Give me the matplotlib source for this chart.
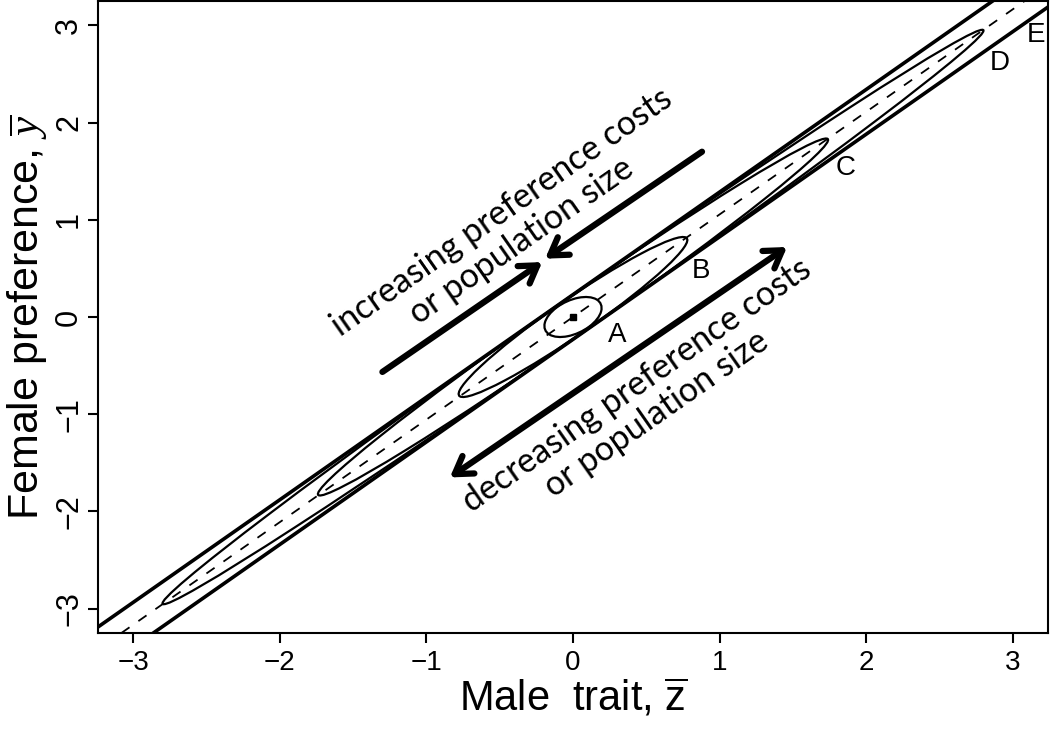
# mating preference / trait equilibrium sketch

import numpy as np
import matplotlib
matplotlib.use("Agg")
import matplotlib.pyplot as plt
from matplotlib.patches import Ellipse, FancyArrowPatch

plt.rcParams['font.family'] = ['Liberation Sans', 'DejaVu Sans']
plt.rcParams['mathtext.fontset'] = 'custom'
plt.rcParams['mathtext.rm'] = 'Liberation Sans'
plt.rcParams['mathtext.it'] = 'Liberation Serif:italic'

# line of equilibria and the band around it
line_slope = 1.055
band_offset = 0.23

# ellipses A-D: half extent along x and correlation
ellipse_names = ['A', 'B', 'C', 'D']
ellipse_half_x = [0.195, 0.78, 1.74, 2.80]
ellipse_corr = [0.45, 0.962, 0.992, 0.997]

# letter labels
label_text = ['A', 'B', 'C', 'D', 'E']
label_x = [0.30, 0.87, 1.86, 2.91, 3.16]
label_y = [-0.185, 0.47, 1.53, 2.61, 2.90]

# arrows (start -> end)
arrow_up_start = (-1.30, -0.565)
arrow_up_end = (-0.21, 0.565)
arrow_down_start = (0.88, 1.70)
arrow_down_end = (-0.19, 0.60)
arrow_both_a = (-0.84, -1.65)
arrow_both_b = (1.46, 0.72)

ticks = [-3, -2, -1, 0, 1, 2, 3]
tick_labels = ['\u22123', '\u22122', '\u22121', '0', '1', '2', '3']
lim = 3.24


def cov_ellipse(hx, rho, slope, **kw):
    hy = slope * hx
    cov = np.array([[hx ** 2, rho * hx * hy], [rho * hx * hy, hy ** 2]])
    vals, vecs = np.linalg.eigh(cov)
    big = vecs[:, 1]
    ang = np.degrees(np.arctan2(big[1], big[0]))
    return Ellipse((0, 0), 2 * np.sqrt(vals[1]), 2 * np.sqrt(vals[0]),
                   angle=ang, fill=False, **kw)


fig = plt.figure(figsize=(10.5, 7.29), dpi=100)
ax = fig.add_axes([98 / 1050, 1 - 633 / 729, 950 / 1050, 632 / 729])
ax.set_xlim(-lim, lim)
ax.set_ylim(-3.25, 3.25)

ax.axline((0, band_offset), slope=line_slope, color='black', lw=2.6)
ax.axline((0, -band_offset), slope=line_slope, color='black', lw=2.6)
ax.axline((0, 0), slope=line_slope, color='black', lw=1.3, dashes=(5.5, 6))

for hx, rho in zip(ellipse_half_x, ellipse_corr):
    ax.add_patch(cov_ellipse(hx, rho, line_slope, color='black', lw=1.6))
ax.plot([0], [0], marker='s', color='black', ms=5)

for t, x, y in zip(label_text, label_x, label_y):
    ax.text(x, y, t, fontsize=20, ha='center', va='center')

arrow_style = '->,head_length=0.6,head_width=0.38'
for a, b, st in [(arrow_up_start, arrow_up_end, arrow_style),
                 (arrow_down_start, arrow_down_end, arrow_style),
                 (arrow_both_a, arrow_both_b, '<->,head_length=0.6,head_width=0.38')]:
    ax.add_patch(FancyArrowPatch(a, b, arrowstyle=st, mutation_scale=20,
                                 lw=4.5, color='black', shrinkA=0, shrinkB=0))

txt_angle = np.degrees(np.arctan(line_slope))
ax.text(-0.42, 0.93, 'increasing preference costs\nor population size',
        rotation=txt_angle, transform_rotates_text=True, rotation_mode='anchor',
        ha='center', va='center', multialignment='center',
        fontsize=24.5, family=['Lato', 'DejaVu Sans'], linespacing=1.1)
ax.text(0.50, -0.85, 'decreasing preference costs\nor population size',
        rotation=txt_angle, transform_rotates_text=True, rotation_mode='anchor',
        ha='center', va='center', multialignment='center',
        fontsize=24.5, family=['Lato', 'DejaVu Sans'], linespacing=1.1)

ax.set_xticks(ticks)
ax.set_yticks(ticks)
ax.set_xticklabels(tick_labels)
ax.set_yticklabels(tick_labels)
ax.tick_params(direction='out', length=7, width=1.5, pad=5)
ax.tick_params(axis='x', labelsize=20)
ax.tick_params(axis='y', labelsize=22, labelrotation=90, pad=3)
for lab in ax.get_yticklabels():
    lab.set_va('center')
for s in ax.spines.values():
    s.set_linewidth(1.5)

ax.set_xlabel(r'Male  trait, $\overline{\mathrm{z}}$', fontsize=30, labelpad=1)
ax.set_ylabel(r'Female preference, $\overline{y}$', fontsize=31, labelpad=3)

fig.savefig('out.png', dpi=100)
